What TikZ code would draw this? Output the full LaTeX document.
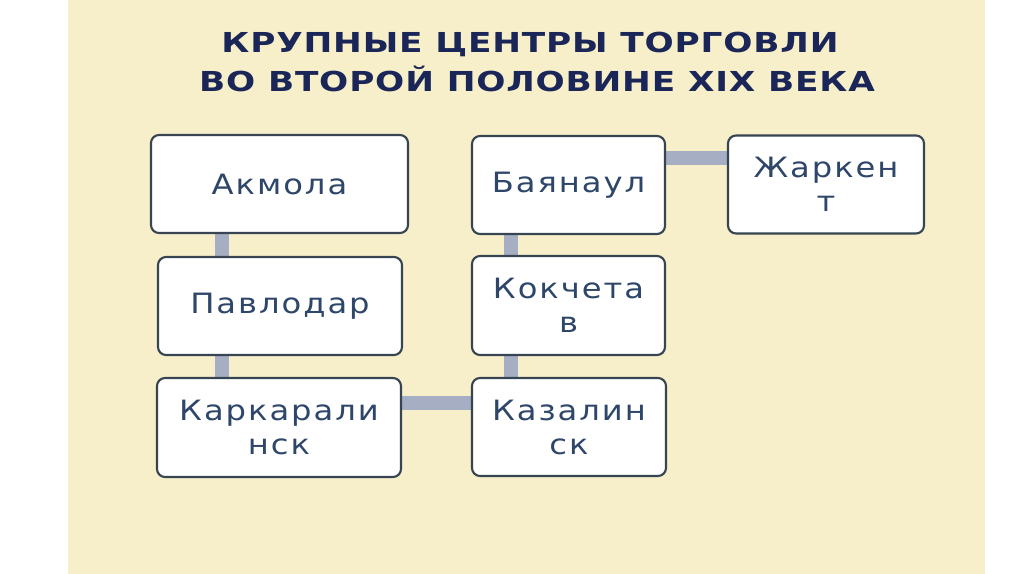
\documentclass[tikz,border=0pt]{standalone}
\usepackage{fontspec}
\setmainfont{DejaVu Sans}
\newfontfamily\boxfont[LetterSpace=7,FakeStretch=1.15]{DejaVu Sans}
\newfontfamily\titlefont[LetterSpace=3,FakeStretch=1.25]{DejaVu Sans Bold}
\usetikzlibrary{calc}
\definecolor{parch}{RGB}{247,239,201}
\definecolor{titlec}{RGB}{27,38,88}
\definecolor{textc}{RGB}{45,70,105}
\definecolor{borderc}{RGB}{55,68,82}
\definecolor{connc}{RGB}{166,174,196}
\pgfdeclarelayer{back}
\pgfdeclarelayer{bg}
\pgfsetlayers{back,bg,main}
\tikzset{
  box/.style={draw=borderc, line width=1.6pt, rounded corners=6pt, fill=white,
    text=textc, font=\boxfont\fontsize{21}{25.5}\selectfont, align=center, inner sep=0pt},
  conn/.style={draw=connc, line width=10pt},
  titletext/.style={text=titlec, font=\titlefont\fontsize{20.6}{24}\selectfont, anchor=base, inner sep=0pt}
}
\begin{document}
\begin{tikzpicture}[x=0.75pt,y=-0.75pt]
\useasboundingbox (0,0) rectangle (1024,574);
\begin{pgfonlayer}{back}
\fill[white] (0,0) rectangle (1024,574);
\fill[parch] (68,0) rectangle (985,574);
\end{pgfonlayer}
\node[titletext] (t1) at (530,53) {КРУПНЫЕ ЦЕНТРЫ ТОРГОВЛИ};
\node[titletext] (t2) at (537,91.5) {ВО ВТОРОЙ ПОЛОВИНЕ XIX ВЕКА};
\node[box, minimum width={257*0.75pt}, minimum height={98*0.75pt}] (akm) at (279.5,184) {Акмола};
\node[box, minimum width={244*0.75pt}, minimum height={98*0.75pt}] (pav) at (280,306) {Павлодар};
\node[box, minimum width={244*0.75pt}, minimum height={99*0.75pt}] (kar) at (279,427.5) {Каркарали\\нск};
\node[box, minimum width={193*0.75pt}, minimum height={98*0.75pt}] (bay) at (568.5,185) {Баянаул};
\node[box, minimum width={193*0.75pt}, minimum height={99*0.75pt}] (kok) at (568.5,305.5) {Кокчета\\в};
\node[box, minimum width={194*0.75pt}, minimum height={98*0.75pt}] (kaz) at (569,427) {Казалин\\ск};
\node[box, minimum width={196*0.75pt}, minimum height={98*0.75pt}] (zha) at (826,184.5) {Жаркен\\т};
\coordinate (cl) at (222,0);
\coordinate (cr) at (511,0);
\coordinate (hl) at (0,403);
\coordinate (hu) at (0,158);
\begin{pgfonlayer}{bg}
\draw[conn] (akm.south -| cl) -- (pav.north -| cl);
\draw[conn] (pav.south -| cl) -- (kar.north -| cl);
\draw[conn] (kar.east |- hl) -- (kaz.west |- hl);
\draw[conn] (kaz.north -| cr) -- (kok.south -| cr);
\draw[conn] (kok.north -| cr) -- (bay.south -| cr);
\draw[conn] (bay.east |- hu) -- (zha.west |- hu);
\end{pgfonlayer}
\end{tikzpicture}
\end{document}
